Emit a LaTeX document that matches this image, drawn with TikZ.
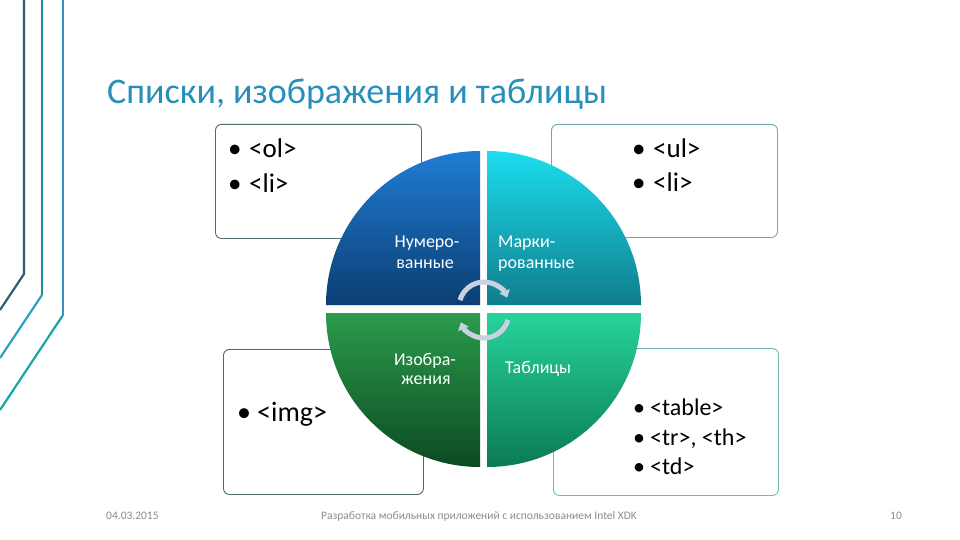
\documentclass[tikz,border=0pt]{standalone}
\usepackage{fontspec}
\setmainfont{Carlito}
\usetikzlibrary{arrows.meta}
\definecolor{titleblue}{RGB}{40,143,186}
\definecolor{lineA}{RGB}{45,95,110}
\definecolor{lineB}{RGB}{30,140,155}
\definecolor{lineBd}{RGB}{45,160,200}
\definecolor{lineC}{RGB}{55,145,195}
\definecolor{lineCd}{RGB}{25,165,165}
\definecolor{tlTop}{RGB}{32,124,212}
\definecolor{tlBot}{RGB}{11,62,115}
\definecolor{trTop}{RGB}{28,221,238}
\definecolor{trBot}{RGB}{15,125,140}
\definecolor{blTop}{RGB}{43,155,76}
\definecolor{blBot}{RGB}{11,74,34}
\definecolor{brTop}{RGB}{39,211,155}
\definecolor{brBot}{RGB}{11,122,85}
\definecolor{bordTL}{RGB}{85,105,115}
\definecolor{bordTR}{RGB}{115,165,170}
\definecolor{bordBL}{RGB}{75,110,95}
\definecolor{bordBR}{RGB}{115,185,180}
\definecolor{arrowgray}{RGB}{200,210,226}
\definecolor{footgray}{RGB}{140,140,140}
\newcommand{\bulA}{\makebox[21pt][l]{•}}
\newcommand{\bulB}{\makebox[20pt][l]{•}}
\newcommand{\bulC}{\makebox[17pt][l]{•}}
\begin{document}
\begin{tikzpicture}[x=1pt,y=-1pt,
  deco/.style={line width=2.2pt},
  listbox/.style={draw, rounded corners=6pt, line width=0.9pt, fill=white,
    anchor=north west, inner sep=0pt},
  item/.style={anchor=base west, inner sep=0pt, text=black},
  qlabel/.style={inner sep=0pt, text=white, font=\fontsize{18}{20}\selectfont},
  cyclearrow/.style={draw=arrowgray, line width=5pt,
    -{Triangle[width=11pt,length=7pt]}},
  foot/.style={inner sep=0pt, anchor=base, text=footgray, font=\fontsize{11.5}{14}\selectfont}
]
\useasboundingbox (0,0) rectangle (960,540);
\fill[white] (0,0) rectangle (960,540);

% decorative lines on the left
\draw[deco, lineA] (24,0) -- (24,274) -- (0,310);
\draw[deco, lineB] (42,0) -- (42,295);
\draw[deco, lineBd] (42,295) -- (0,358);
\draw[deco, lineC] (63,0) -- (63,315);
\draw[deco, lineCd] (63,315) -- (0,410);

% title
\node[anchor=base west, inner sep=0pt, text=titleblue,
  font=\fontsize{36}{42}\selectfont] (title) at (107,104) {Списки, изображения и таблицы};

% boxes
\node[listbox, draw=bordTL, minimum width=206pt, minimum height=114pt] (boxTL) at (215,124) {};
\node[listbox, draw=bordTR, minimum width=226pt, minimum height=113pt] (boxTR) at (551,124) {};
\node[listbox, draw=bordBL, minimum width=200pt, minimum height=145pt] (boxBL) at (223,349) {};
\node[listbox, draw=bordBR, minimum width=225pt, minimum height=147pt] (boxBR) at (553,348) {};

% box texts
\node[item, font=\fontsize{27}{33}\selectfont] (ol) at (228,158) {\bulA<ol>};
\node[item, font=\fontsize{27}{33}\selectfont] (liA) at (228,192) {\bulA<li>};
\node[item, font=\fontsize{27}{33}\selectfont] (ul) at (632,158) {\bulA<ul>};
\node[item, font=\fontsize{27}{33}\selectfont] (liB) at (632,191) {\bulA<li>};
\node[item, font=\fontsize{28}{34}\selectfont] (img) at (237,421) {\bulB<img>};
\node[item, font=\fontsize{24}{29}\selectfont] (tbl) at (633,415) {\bulC<table>};
\node[item, font=\fontsize{24}{29}\selectfont] (trth) at (633,445) {\bulC<tr>, <th>};
\node[item, font=\fontsize{24}{29}\selectfont] (td) at (633,474) {\bulC<td>};

% circle quadrants
\shade[top color=tlTop, bottom color=tlBot]
  (480,305) -- (326,305) arc[start angle=180, end angle=90, radius=154pt] -- cycle;
\shade[top color=trTop, bottom color=trBot]
  (487,305) -- (487,151) arc[start angle=90, end angle=0, radius=154pt] -- cycle;
\shade[top color=blTop, bottom color=blBot]
  (480,313) -- (326,313) arc[start angle=180, end angle=270, radius=154pt] -- cycle;
\shade[top color=brTop, bottom color=brBot]
  (487,313) -- (641,313) arc[start angle=0, end angle=-90, radius=154pt] -- cycle;

% quadrant labels
\node[qlabel, anchor=base] (num1) at (427,247) {Нумеро-};
\node[qlabel, anchor=base] (num2) at (425,268) {ванные};
\node[qlabel, anchor=base west] (mar1) at (498,247) {Марки-};
\node[qlabel, anchor=base west] (mar2) at (498,268) {рованные};
\node[qlabel, anchor=base] (izo1) at (425,365) {Изобра-};
\node[qlabel, anchor=base] (izo2) at (426,384) {жения};
\node[qlabel, anchor=base west] (tab) at (505,373) {Таблицы};

% cycle arrows
\draw[cyclearrow] (484,307) ++(164:25pt) arc[start angle=164, end angle=22, radius=25pt];
\draw[cyclearrow] (484,313) ++(-16:25pt) arc[start angle=-16, end angle=-158, radius=25pt];

% footer
\node[foot, anchor=base west] (date) at (106,519) {04.03.2015};
\node[foot] (course) at (479,519) {Разработка мобильных приложений с использованием Intel XDK};
\node[foot] (page) at (896,519) {10};
\end{tikzpicture}
\end{document}
